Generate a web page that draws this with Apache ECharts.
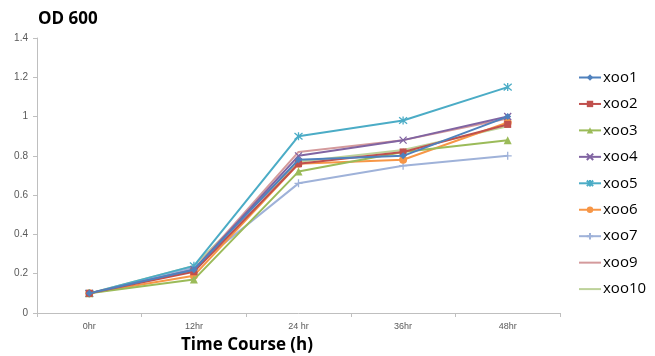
<!DOCTYPE html>
<html>
<head>
<meta charset="utf-8">
<script src="https://cdn.jsdelivr.net/npm/echarts@6/dist/echarts.min.js"></script>
<style>
  html, body { margin: 0; padding: 0; background: #fff; }
  #chart { width: 655px; height: 356px; }
</style>
</head>
<body>
<div id="chart"></div>
<script>
// Sampling times
const timePoints = ['0hr', '12hr', '24 hr', '36hr', '48hr'];

// OD600 readings per strain
const xoo1 = [0.10, 0.22, 0.78, 0.80, 1.00];
const xoo2 = [0.10, 0.21, 0.76, 0.82, 0.96];
const xoo3 = [0.10, 0.17, 0.72, 0.82, 0.88];
const xoo4 = [0.10, 0.22, 0.80, 0.88, 1.00];
const xoo5 = [0.10, 0.24, 0.90, 0.98, 1.15];
const xoo6 = [0.10, 0.19, 0.76, 0.78, 0.97];
const xoo7 = [0.10, 0.23, 0.66, 0.75, 0.80];
const xoo9 = [0.10, 0.22, 0.82, 0.88, 0.99];
const xoo10 = [0.10, 0.24, 0.77, 0.83, 0.95];

const strainNames = ['xoo1', 'xoo2', 'xoo3', 'xoo4', 'xoo5', 'xoo6', 'xoo7', 'xoo9', 'xoo10'];
const strainValues = [xoo1, xoo2, xoo3, xoo4, xoo5, xoo6, xoo7, xoo9, xoo10];

const colors = ['#4F81BD', '#C0504D', '#9BBB59', '#8064A2', '#4BACC6', '#F79646', '#9FB2D9', '#D49A9C', '#BDD29A'];

const crossPath = 'path://M0,0L10,10M10,0L0,10';
const starPath = 'path://M0,0L10,10M10,0L0,10M5,-1L5,11';
const plusPath = 'path://M0,5L10,5M5,0L5,10';
const symbols = ['diamond', 'rect', 'triangle', crossPath, starPath, 'circle', plusPath, 'none', 'none'];
const symbolSizes = [7, 7, 8, 7, 8, 8, 8, 0, 0];
const strokedMarks = [3, 4, 6];

const series = strainNames.map((name, i) => {
  const stroked = strokedMarks.includes(i);
  return {
    name,
    type: 'line',
    data: strainValues[i],
    symbol: symbols[i],
    symbolSize: symbolSizes[i],
    showSymbol: symbols[i] !== 'none',
    lineStyle: { color: colors[i], width: 2 },
    itemStyle: stroked
      ? { color: 'rgba(0,0,0,0)', borderColor: colors[i], borderWidth: 1.3 }
      : { color: colors[i], borderColor: colors[i], borderWidth: 0 },
    emphasis: { disabled: true },
    z: 10 - i
  };
});

// Legend entries: the last two strains are shown as plain lines
const legendData = strainNames.map((name, i) => symbols[i] === 'none'
  ? { name, itemStyle: { color: 'rgba(0,0,0,0)', borderWidth: 0, opacity: 0 } }
  : { name });

const chart = echarts.init(document.getElementById('chart'), null, { renderer: 'canvas' });
chart.setOption({
  animation: false,
  backgroundColor: '#fff',
  color: colors,
  title: [
    {
      text: 'OD 600',
      left: 33, top: 6,
      textStyle: { fontFamily: 'Open Sans', fontWeight: 'bold', fontSize: 17, color: '#000' }
    },
    {
      text: 'Time Course (h)',
      left: 176, top: 332,
      textStyle: { fontFamily: 'Open Sans', fontWeight: 'bold', fontSize: 17, color: '#000' }
    }
  ],
  grid: { left: 37, right: 95, top: 38, bottom: 43, containLabel: false },
  legend: {
    orient: 'vertical',
    left: 578, top: 70,
    padding: 0,
    itemWidth: 22, itemHeight: 8, itemGap: 11.45,
    textStyle: { fontFamily: 'Open Sans', fontSize: 15, color: '#000', padding: [0, 0, 0, -3] },
    data: legendData
  },
  xAxis: {
    type: 'category',
    data: timePoints,
    boundaryGap: true,
    axisLine: { lineStyle: { color: '#BFBFBF', width: 1 } },
    axisTick: { show: true, length: 4, lineStyle: { color: '#BFBFBF' } },
    axisLabel: { fontFamily: 'Liberation Sans', fontSize: 9, color: '#595959', margin: 9 }
  },
  yAxis: {
    type: 'value',
    min: 0, max: 1.4, interval: 0.2,
    axisLine: { show: true, lineStyle: { color: '#BFBFBF', width: 1 } },
    axisTick: { show: true, length: 4, lineStyle: { color: '#BFBFBF' } },
    splitLine: { show: false },
    axisLabel: { fontFamily: 'Liberation Sans', fontSize: 10, color: '#595959', margin: 9 }
  },
  series
});
</script>
</body>
</html>
